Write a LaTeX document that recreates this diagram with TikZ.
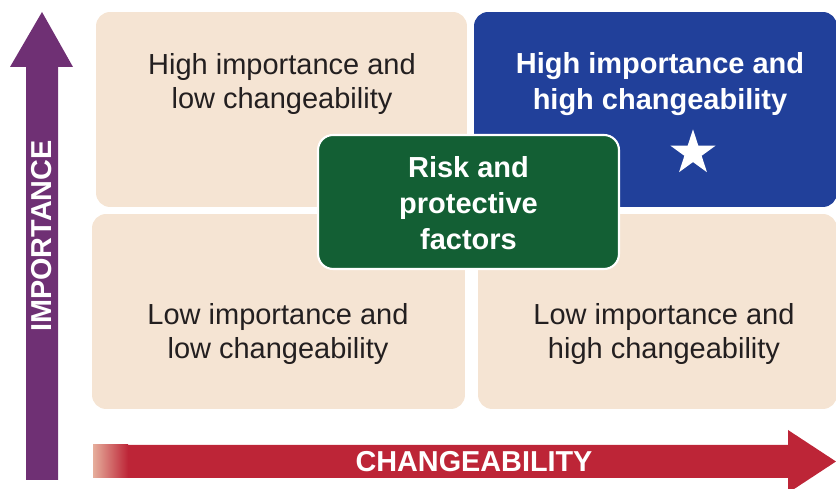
\documentclass[tikz,border=0pt]{standalone}
\usepackage{fontspec}
\setmainfont{Liberation Sans}
\usetikzlibrary{shapes.geometric}

\definecolor{sand}{HTML}{F5E4D3}
\definecolor{navy}{HTML}{21409A}
\definecolor{forest}{HTML}{135F34}
\definecolor{plum}{HTML}{6F3074}
\definecolor{crimson}{HTML}{BD2537}
\definecolor{blush}{HTML}{E6AE9C}
\definecolor{ink}{HTML}{231F20}

\tikzset{
  quad/.style={fill=sand, rounded corners=0.28cm, minimum height=3.9cm, inner sep=0},
  quadtext/.style={align=center, text=ink, font=\fontsize{16.5}{19.5}\selectfont},
  boldtext/.style={align=center, text=white, font=\fontsize{16.5}{20.5}\selectfont\bfseries},
  axislabel/.style={text=white, font=\fontsize{16.4}{19}\selectfont\bfseries, inner sep=0}
}

\begin{document}
\begin{tikzpicture}[x=0.02cm,y=-0.02cm]
    \useasboundingbox (0,0) rectangle (836,489);

    % importance axis
    \fill [color=plum] (42,12)--(73,67)--(58,67)--(58,480)--(26,480)--(26,67)--(10,67)--cycle;
    \node [axislabel, rotate=90] (imp) at (42,236) {IMPORTANCE};

    % changeability axis
    \fill [color=crimson] (93,445)--(788,445)--(788,430)--(836,461.5)--(788,493)--(788,478)--(93,478)--cycle;
    \shade [left color=blush, right color=crimson] (93,445) rectangle (128,478);
    \node [axislabel] (chg) at (474,462) {CHANGEABILITY};

    % quadrants
    \node [quad, minimum width=7.42cm] (hilo) at (281.5,109.5) {};
    \node [quad, fill=navy, minimum width=7.26cm] (hihi) at (655.5,109.5) {};
    \node [quad, minimum width=7.46cm] (lolo) at (278.5,311.5) {};
    \node [quad, minimum width=7.18cm] (lohi) at (657.5,311.5) {};

    \node [quadtext] (hilotext) at (282,84) {High importance and\\low changeability};
    \node [boldtext] (hihitext) at (660,84) {High importance and\\high changeability};
    \node [quadtext] (lolotext) at (278,334) {Low importance and\\low changeability};
    \node [quadtext] (lohitext) at (664,334) {Low importance and\\high changeability};

    \node [star, star points=5, star point ratio=2.618, fill=white, inner sep=0, minimum size=0.95cm] (star) at (693,153) {};

    % centre box
    \node [draw=white, line width=1.2pt, fill=forest, rounded corners=0.3cm, minimum width=6.02cm, minimum height=2.68cm] (risk) at (468.5,202) {};
    \node [boldtext] (risktext) at (468.5,203) {Risk and\\protective\\factors};

\end{tikzpicture}
\end{document}
